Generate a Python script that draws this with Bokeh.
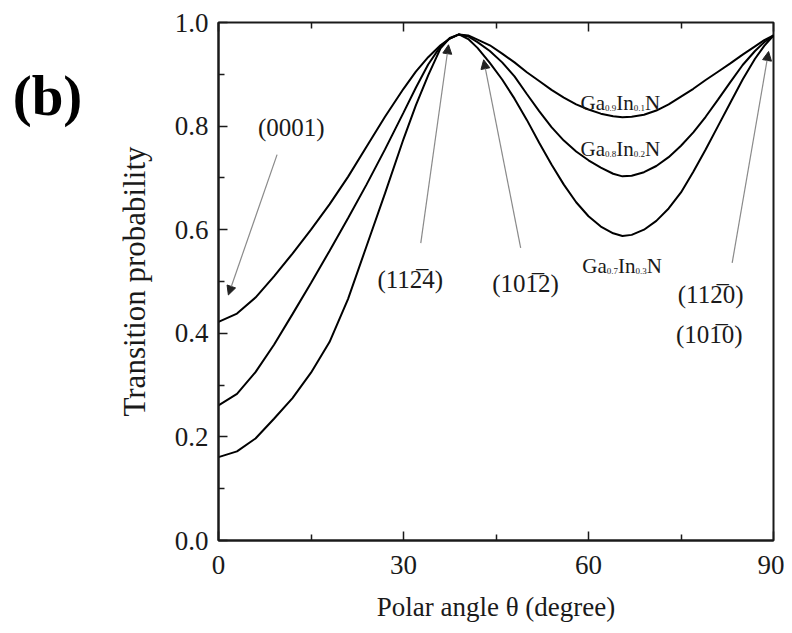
from bokeh.plotting import figure
from bokeh.layouts import row
from bokeh.models import (FixedTicker, PrintfTickFormatter, LinearAxis, Label, Arrow,
                          NormalHead, CustomJSTickFormatter, Range1d)
from bokeh.core.properties import value
from bokeh.embed import file_html
from bokeh.resources import INLINE

# ---- data ----
theta = [0, 3, 6, 9, 12, 15, 18, 21, 24, 27, 30, 32, 34, 36, 37.5, 39, 40.5, 42, 44, 46,
         48, 50, 52, 54, 56, 58, 60, 62, 64, 65.5, 67, 69, 71, 73, 75, 77, 79, 81, 83, 85,
         87, 88.5, 90]
ga09_in01 = [0.422, 0.438, 0.469, 0.510, 0.554, 0.600, 0.649, 0.702, 0.760, 0.818, 0.872,
             0.905, 0.933, 0.956, 0.969, 0.977, 0.975, 0.967, 0.956, 0.940,
             0.923, 0.904, 0.887, 0.870, 0.855, 0.842, 0.832, 0.824, 0.819, 0.817, 0.818,
             0.822, 0.830, 0.842, 0.857, 0.872, 0.889, 0.905, 0.921, 0.938,
             0.954, 0.966, 0.975]
ga08_in02 = [0.261, 0.283, 0.325, 0.378, 0.437, 0.497, 0.559, 0.622, 0.687, 0.755, 0.826,
             0.874, 0.919, 0.954, 0.969, 0.977, 0.973, 0.962, 0.945, 0.923,
             0.896, 0.862, 0.829, 0.798, 0.772, 0.751, 0.734, 0.720, 0.708, 0.703, 0.704,
             0.711, 0.723, 0.740, 0.762, 0.788, 0.818, 0.851, 0.885, 0.918,
             0.945, 0.962, 0.975]
ga07_in03 = [0.161, 0.172, 0.197, 0.235, 0.275, 0.324, 0.383, 0.466, 0.568, 0.670, 0.775,
             0.840, 0.898, 0.950, 0.970, 0.977, 0.968, 0.951, 0.922, 0.890,
             0.853, 0.812, 0.768, 0.726, 0.687, 0.653, 0.626, 0.606, 0.593, 0.588, 0.590,
             0.600, 0.617, 0.641, 0.672, 0.712, 0.755, 0.800, 0.845, 0.890,
             0.930, 0.955, 0.975]

x_major = [0, 30, 60, 90]
x_minor = [15, 45, 75]
y_major = [0.0, 0.2, 0.4, 0.6, 0.8, 1.0]
y_minor = [0.1, 0.3, 0.5, 0.7, 0.9]

FONT = "Liberation Serif"
INK = "#1a1a1a"
W_B = 100      # width of the side strip carrying the panel letter
H = 625

# ---- side strip with the panel letter "(b)" ----
pb = figure(width=W_B, height=H, output_backend="svg", toolbar_location=None,
            x_range=Range1d(0, W_B), y_range=Range1d(0, H), min_border=0)
pb.axis.visible = False
pb.grid.visible = False
pb.outline_line_color = None
pb.text(x=[47], y=[H - 88], text=["(b)"], text_font=value(FONT), text_font_size="57px",
        text_font_style="bold", text_color="black", text_align="center",
        text_baseline="middle")

# ---- main plot ----
p = figure(width=784 - W_B, height=H, output_backend="svg", toolbar_location=None,
           x_range=Range1d(0, 90), y_range=Range1d(0, 1),
           min_border_left=218 - W_B, min_border_right=11, min_border_top=22,
           min_border_bottom=85)
p.background_fill_color = "white"
p.border_fill_color = "white"
p.grid.visible = False
p.outline_line_color = INK
p.outline_line_width = 2

for r in (ga09_in01, ga08_in02, ga07_in03):
    p.line(theta, r, line_color="black", line_width=2)

xa = p.xaxis[0]
xa.ticker = FixedTicker(ticks=x_major, minor_ticks=x_minor)
xa.axis_label = "Polar angle \u03b8 (degree)"
ya = p.yaxis[0]
ya.ticker = FixedTicker(ticks=y_major, minor_ticks=y_minor)
ya.formatter = PrintfTickFormatter(format="%.1f")
ya.axis_label = "Transition probability"
for ax in (xa, ya):
    ax.axis_line_color = INK
    ax.axis_line_width = 2
    ax.major_tick_in = 9
    ax.major_tick_out = 0
    ax.minor_tick_in = 6
    ax.minor_tick_out = 0
    ax.major_tick_line_color = INK
    ax.minor_tick_line_color = INK
    ax.major_tick_line_width = 1.5
    ax.minor_tick_line_width = 1.5
    ax.major_label_text_font = FONT
    ax.major_label_text_font_size = "27px"
    ax.major_label_text_color = INK
    ax.axis_label_text_font = FONT
    ax.axis_label_text_font_style = "normal"
    ax.axis_label_text_color = INK
xa.axis_label_text_font_size = "27px"
ya.axis_label_text_font_size = "31px"
xa.major_label_standoff = 15
xa.axis_label_standoff = 15
ya.major_label_standoff = 10
ya.axis_label_standoff = 20

top = LinearAxis(ticker=FixedTicker(ticks=x_major, minor_ticks=x_minor),
                 formatter=CustomJSTickFormatter(code="return ''"),
                 axis_line_color=None, major_tick_in=9, major_tick_out=0,
                 minor_tick_in=6, minor_tick_out=0, major_tick_line_color=INK,
                 minor_tick_line_color=INK, major_tick_line_width=1.5,
                 minor_tick_line_width=1.5)
p.add_layout(top, "above")

# arrows pointing at the crystal planes
arrows = [((9.5, 0.745), (1.6, 0.474)),
          ((32.8, 0.574), (37.3, 0.957)),
          ((49.0, 0.565), (43.0, 0.928)),
          ((83.3, 0.536), (89.2, 0.944))]
for (x0, y0), (x1, y1) in arrows:
    p.add_layout(Arrow(x_start=x0, y_start=y0, x_end=x1, y_end=y1,
                       line_color="#8a8a8a", line_width=1.2,
                       end=NormalHead(size=9, fill_color="#222222", line_color="#222222",
                                      line_width=1)))

OV = "\u0305"
notes = [(11.8, 0.797, "(0001)"),
         (31.1, 0.503, "(112" + OV + "4)"),
         (49.8, 0.497, "(101" + OV + "2)"),
         (79.8, 0.474, "(112" + OV + "0)"),
         (79.6, 0.397, "(101" + OV + "0)")]
for x, y, t in notes:
    p.add_layout(Label(x=x, y=y, text=t, text_font=FONT, text_font_size="25px",
                       text_color=INK, text_align="center", text_baseline="middle"))

# composition labels with small subscripts
W = {"G": 0.722, "a": 0.444, "I": 0.333, "n": 0.5, "N": 0.722, ".": 0.25}
def comp(x, y, a, b):
    parts = [("Ga", False), (a, True), ("In", False), (b, True), ("N", False)]
    off = 0.0
    for txt, sub in parts:
        fs = 9 if sub else 21
        p.add_layout(Label(x=x, y=y, x_offset=off, y_offset=-5 if sub else 0, text=txt,
                           text_font=FONT, text_font_size=f"{fs}px", text_color=INK,
                           text_align="left", text_baseline="alphabetic"))
        off += sum(W.get(c, 0.5) for c in txt) * fs
comp(58.7, 0.845, "0.9", "0.1")
comp(58.7, 0.756, "0.8", "0.2")
comp(59.0, 0.530, "0.7", "0.3")

layout = row(pb, p)
open("out.html", "w").write(file_html(layout, INLINE))
